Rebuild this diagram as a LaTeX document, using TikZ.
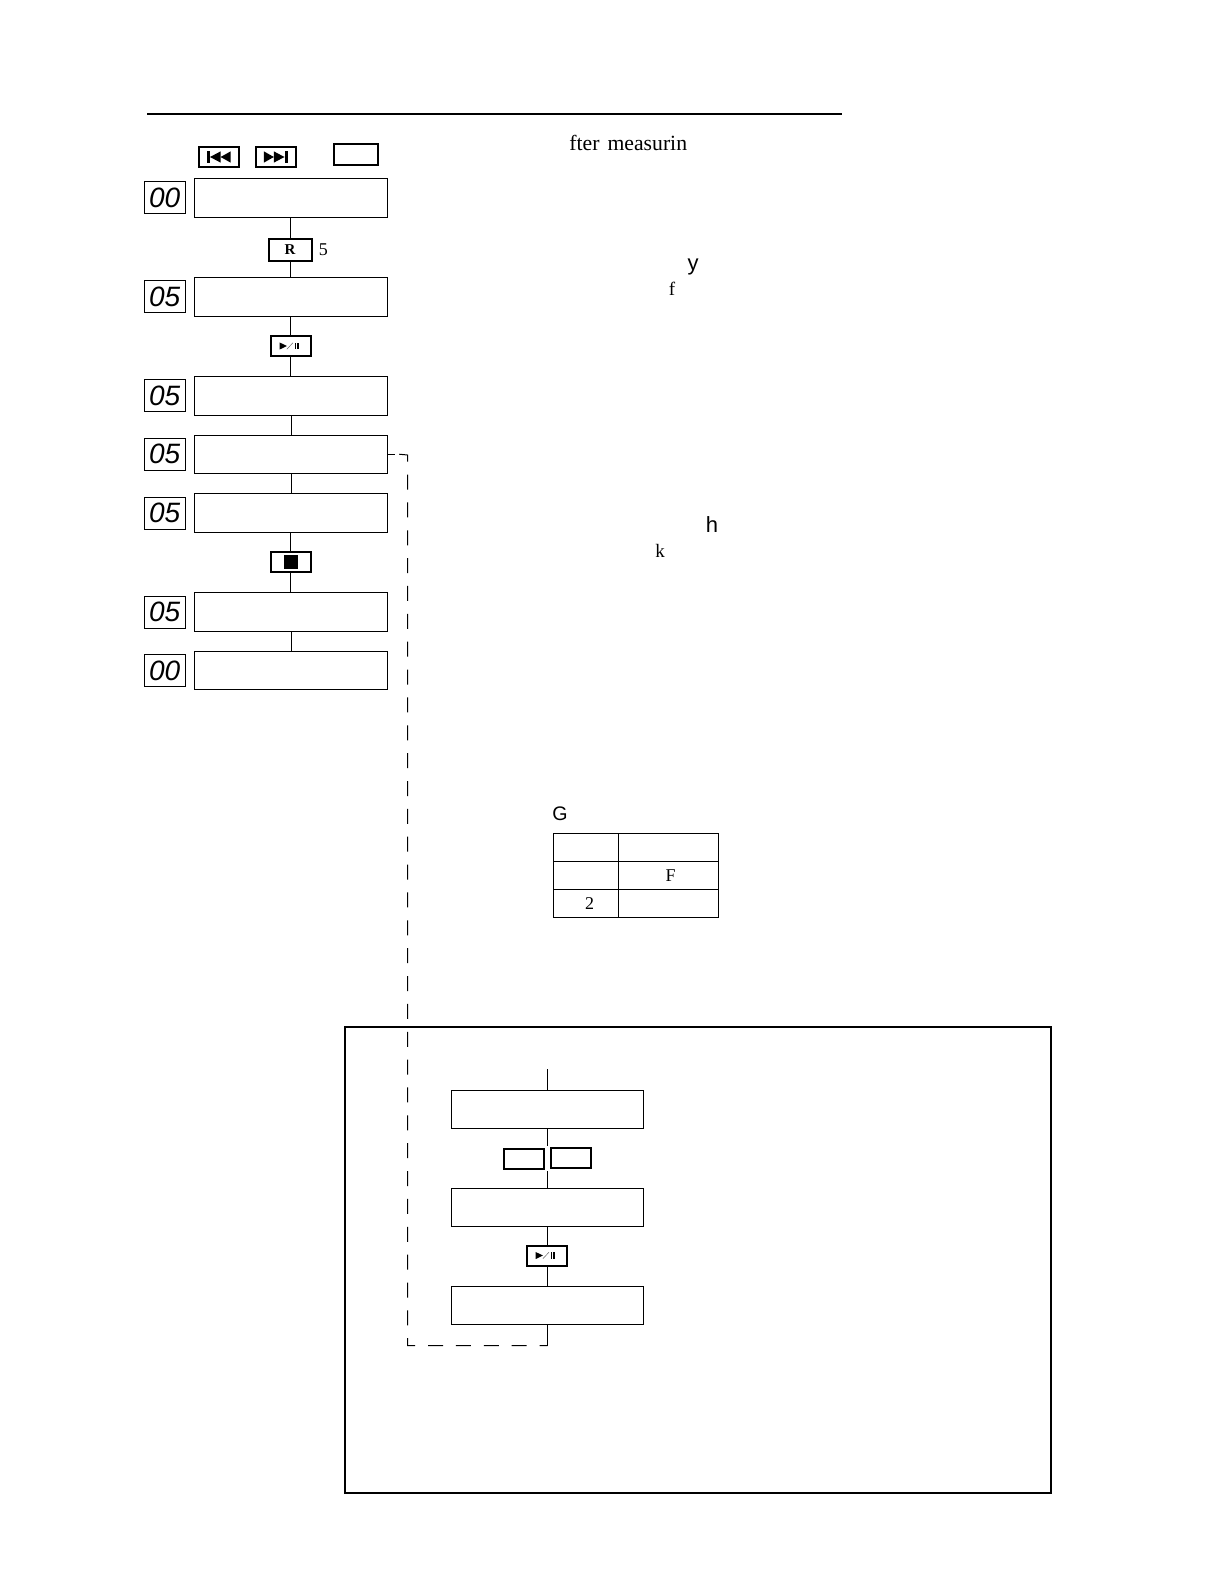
\documentclass[tikz,border=0pt]{standalone}
\usepackage{fontspec}
\setmainfont{Liberation Serif}
\setsansfont{Liberation Sans}
\usepackage{tikz}
\usetikzlibrary{positioning}

\tikzset{
  screen/.style={draw, line width=0.45pt, outer sep=0pt, inner sep=0pt, minimum width=96.3pt, minimum height=19.5pt},
  display/.style={draw, line width=0.45pt, outer sep=0pt, inner sep=0pt, minimum width=20.4pt, minimum height=16pt, font=\sffamily\itshape\fontsize{14}{14}\selectfont},
  btn/.style={draw, line width=1pt, outer sep=0pt, inner sep=0pt, minimum width=20pt, minimum height=10pt},
  btnwide/.style={btn, minimum width=21.5pt, minimum height=11pt},
  cell/.style={draw, line width=0.45pt, outer sep=0pt, inner sep=0pt, minimum height=14pt, text height=6pt, text depth=0pt, font=\fontsize{9}{9}\selectfont},
  cella/.style={cell, minimum width=32.5pt},
  cellb/.style={cell, minimum width=50pt},
  flow/.style={line width=0.45pt},
  loopline/.style={line width=0.5pt, dash pattern=on 7.5pt off 6.43pt, dash phase=12.86pt},
  scrap/.style={inner sep=0pt, anchor=base, font=\fontsize{9}{9}\selectfont},
  scrapsans/.style={scrap, font=\sffamily\fontsize{11}{11}\selectfont},
  skipicon/.pic={
    \fill (-6,-2.8) rectangle (-4.5,2.8);
    \fill (-4.5,0) -- (0.8,-2.8) -- (0.8,2.8) -- cycle;
    \fill (0.8,0) -- (5.8,-2.8) -- (5.8,2.8) -- cycle;
  },
  playicon/.pic={
    \fill (-5.5,-1.8) -- (-1.8,0) -- (-5.5,1.8) -- cycle;
    \draw[line width=0.25pt, black!60] (-1.8,1.6) -- (1.2,-1.6);
    \fill (2,-1.6) rectangle (2.8,1.6);
    \fill (3.3,-1.6) rectangle (4.1,1.6);
  },
  stopicon/.pic={\fill (-3.5,-3.5) rectangle (3.5,3.5);}
}

\begin{document}
\begin{tikzpicture}[x=1pt, y=-1pt]
\useasboundingbox (0,0) rectangle (612,792);

% top rule and heading
\coordinate (rulea) at (73.5,57);
\coordinate (ruleb) at (421,57);
\draw[line width=1pt] (rulea) -- (ruleb);
\node[scrap, font=\fontsize{10.85}{11}\selectfont, anchor=base west] (head) at (284.5,75) {fter\hspace{0.12em} measurin};

% key row
\node[btn] (kprev) at (109.5,78.5) {};
\node[btn] (knext) at (137.75,78.5) {};
\node[btn, minimum width=22pt, minimum height=10.5pt] (kblank) at (178,77.25) {};
\pic at (kprev) {skipicon};
\pic[xscale=-1] at (knext) {skipicon};

% left column
\node[screen] (s1) at (145.5,98.75) {};
\node[btnwide, below=10.75pt of s1, xshift=-0.5pt] (kr) {\bfseries\fontsize{7.5}{7.5}\selectfont R};
\node[scrap, right=3.5pt of kr] (krn) {5};
\node[screen, below=30pt of s1] (s2) {};
\node[btn, below=10pt of s2, xshift=-0.25pt] (kplaya) {};
\pic at (kplaya) {playicon};
\node[screen, below=30pt of s2] (s3) {};
\node[screen, minimum height=19pt, below=10pt of s3] (s4) {};
\node[screen, below=10.25pt of s4] (s5) {};
\node[btn, below=9.5pt of s5, xshift=-0.25pt] (kstop) {};
\pic at (kstop) {stopicon};
\node[screen, below=30pt of s5] (s6) {};
\node[screen, minimum height=19pt, below=10pt of s6] (s7) {};

\node[display, left=4.8pt of s1] (d1) {00};
\node[display, left=4.8pt of s2] (d2) {05};
\node[display, left=4.8pt of s3] (d3) {05};
\node[display, left=4.8pt of s4] (d4) {05};
\node[display, left=4.8pt of s5] (d5) {05};
\node[display, left=4.8pt of s6] (d6) {05};
\node[display, left=4.8pt of s7] (d7) {00};

\draw[flow] (kr.north) -- (kr.north |- s1.south);
\draw[flow] (kr.south) -- (kr.south |- s2.north);
\draw[flow] (kplaya.north) -- (kplaya.north |- s2.south);
\draw[flow] (kplaya.south) -- (kplaya.south |- s3.north);
\draw[flow] (s3) -- (s4);
\draw[flow] (s4) -- (s5);
\draw[flow] (kstop.north) -- (kstop.north |- s5.south);
\draw[flow] (kstop.south) -- (kstop.south |- s6.north);
\draw[flow] (s6) -- (s7);

% stray letters
\node[scrapsans] (ly) at (346.5,135) {y};
\node[scrap, font=\fontsize{9.5}{9.5}\selectfont] (lf) at (336,147.5) {f};
\node[scrapsans] (lh) at (356,266) {h};
\node[scrap, font=\fontsize{9.5}{9.5}\selectfont] (lk) at (330,278.5) {k};

% table
\node[scrapsans, font=\sffamily\fontsize{9.8}{9.8}\selectfont] (lg) at (280,410) {G};
\node[cella] (t1) at (292.75,423.5) {};
\node[cellb, right=0pt of t1] (t2) {};
\node[cella, below=0pt of t1] (t3) {};
\node[cellb, right=0pt of t3] (t4) {\hspace{2.5pt}F};
\node[cella, below=0pt of t3] (t5) {\hspace{4pt}2};
\node[cellb, right=0pt of t5] (t6) {};

% lower frame
\node[draw, line width=1pt, outer sep=0pt, inner sep=0pt, minimum width=353pt, minimum height=233pt] (frame) at (348.75,629.75) {};

\coordinate (top) at (273.75,534.5);
\node[screen, minimum height=19pt] (s8) at (273.75,554.5) {};
\node[screen, minimum height=19pt, below=30pt of s8] (s9) {};
\node[btn, below=9.75pt of s9, xshift=-0.5pt] (kplayb) {};
\pic at (kplayb) {playicon};
\node[screen, minimum height=19pt, below=30pt of s9] (s10) {};
\node[btn, below=10.5pt of s8, xshift=-12pt] (kla) {};
\node[btn, below=10pt of s8, xshift=11.5pt] (klb) {};
\coordinate[below=9pt of s8] (gapa);
\coordinate[above=8.5pt of s9] (gapb);
\coordinate[below=10.75pt of s10] (bend);

\draw[flow] (top) -- (s8);
\draw[flow] (s8) -- (gapa);
\draw[flow] (gapb) -- (s9);
\draw[flow] (s9) -- (s9 |- kplayb.north);
\draw[flow] (s9 |- kplayb.south) -- (s10);
\draw[flow] (s10) -- (bend);

% return path
\coordinate[right=3.65pt of s4.east] (stub);
\coordinate[right=4.9pt of s4.east] (start);
\coordinate (turn) at (203.75,227.5);
\draw[flow] (s4.east) -- (stub);
\draw[loopline] (start) -- (turn) |- (bend);
\end{tikzpicture}
\end{document}
